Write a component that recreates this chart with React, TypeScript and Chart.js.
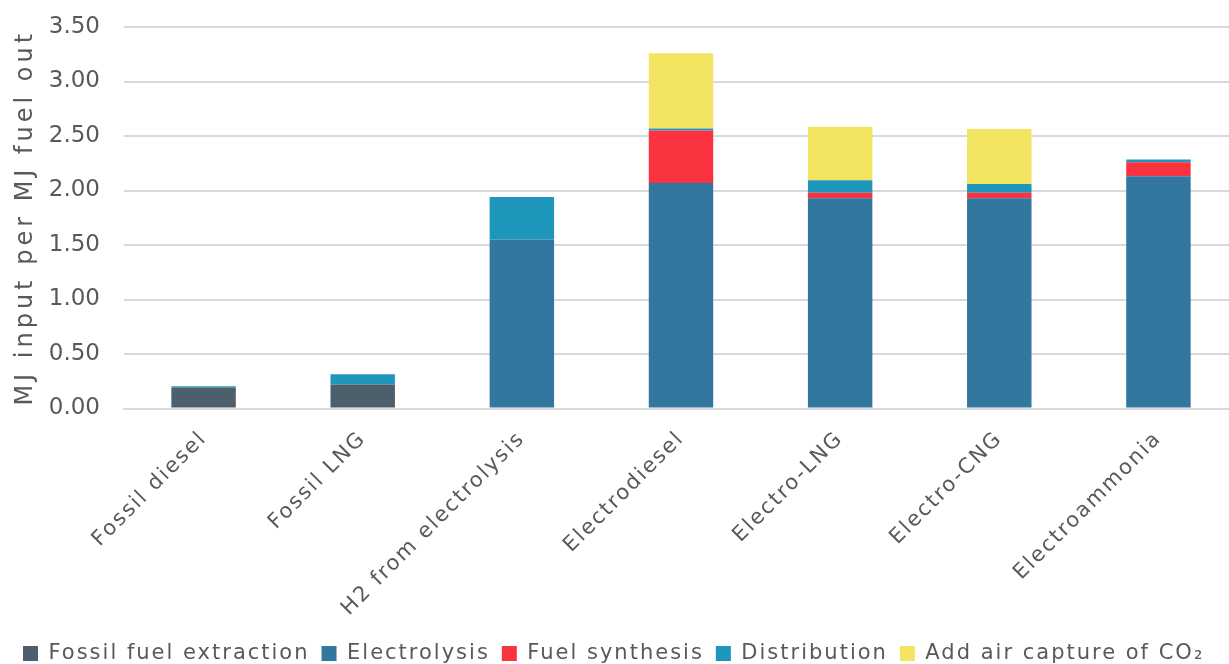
import React, { useEffect, useRef } from "react";
import { Chart, registerables } from "chart.js";

Chart.register(...registerables);

const categories = ["Fossil diesel", "Fossil LNG", "H2 from electrolysis", "Electrodiesel", "Electro-LNG", "Electro-CNG", "Electroammonia"];
const fossilExtraction = [0.19, 0.22, 0, 0, 0, 0, 0];
const electrolysis = [0, 0, 1.55, 2.07, 1.93, 1.93, 2.13];
const fuelSynthesis = [0, 0, 0, 0.48, 0.05, 0.05, 0.13];
const distribution = [0.015, 0.095, 0.39, 0.02, 0.115, 0.08, 0.025];
const airCapture = [0, 0, 0, 0.69, 0.49, 0.505, 0];
const yTicks = [0, 0.5, 1, 1.5, 2, 2.5, 3, 3.5];

const FONT = "'DejaVu Sans', sans-serif";
const TXT = "#595959";

// letter spacing per font size, to imitate the wide geometric face of the original
const SPACING: Record<string, string> = { "21px": "2px", "24px": "4px" };

function patchContext(ctx: CanvasRenderingContext2D) {
  const proto = CanvasRenderingContext2D.prototype;
  const desc = Object.getOwnPropertyDescriptor(proto, "font")!;
  Object.defineProperty(ctx, "font", {
    configurable: true,
    get() {
      return desc.get!.call(this);
    },
    set(v: string) {
      desc.set!.call(this, v);
      const m = /(\d+)px/.exec(v);
      (this as any).letterSpacing = (m && SPACING[m[1] + "px"]) || "0px";
    },
  });
}

const noPad = (s: any) => {
  s.paddingLeft = 0;
  s.paddingRight = 0;
  s.paddingTop = 0;
  s.paddingBottom = 0;
};

export default function App() {
  const ref = useRef<HTMLCanvasElement>(null);
  useEffect(() => {
    document.body.style.margin = "0";
    const canvas = ref.current!;
    patchContext(canvas.getContext("2d")!);
    const chart = new Chart(canvas, {
      type: "bar",
      data: {
        labels: categories,
        datasets: [
          { label: "Fossil fuel extraction", data: fossilExtraction, backgroundColor: "#4e5f6b" },
          { label: "Electrolysis", data: electrolysis, backgroundColor: "#31779f" },
          { label: "Fuel synthesis", data: fuelSynthesis, backgroundColor: "#f9333f" },
          { label: "Distribution", data: distribution, backgroundColor: "#1f96bb" },
          { label: "Add air capture of CO\u2082", data: airCapture, backgroundColor: "#f3e462" },
        ],
      },
      options: {
        responsive: false,
        animation: false,
        layout: { padding: { top: 27, right: 0, left: 11, bottom: 0 } },
        datasets: { bar: { categoryPercentage: 1, barPercentage: 0.405 } },
        scales: {
          x: {
            stacked: true,
            afterFit: noPad,
            grid: { display: false },
            border: { color: "#d9d9d9", width: 2 },
            ticks: { color: TXT, font: { family: FONT, size: 21 }, maxRotation: 45, minRotation: 45, padding: 10 },
          },
          y: {
            stacked: true,
            min: 0,
            max: 3.5,
            afterFit: (s: any) => {
              noPad(s);
              s.width = 113;
            },
            afterBuildTicks: (axis: any) => {
              axis.ticks = yTicks.map((v) => ({ value: v }));
            },
            grid: { color: "#d9d9d9", lineWidth: 2, drawTicks: false },
            border: { display: false },
            ticks: {
              color: TXT,
              font: { family: FONT, size: 23 },
              padding: 24,
              callback: (v: any) => Number(v).toFixed(2),
            },
            title: { display: true, text: "MJ input per MJ fuel out", color: TXT, font: { family: FONT, size: 24 }, padding: { top: 0, bottom: 10 } },
          },
        },
        plugins: {
          legend: {
            position: "bottom",
            align: "start",
            labels: { color: TXT, font: { family: FONT, size: 21 }, boxWidth: 15, boxHeight: 15, padding: 12 },
          },
          tooltip: { enabled: false },
        },
      },
    });
    return () => chart.destroy();
  }, []);
  return (
    <div style={{ width: 1229, height: 664, overflow: "hidden" }}>
      <canvas ref={ref} width={1238} height={674} />
    </div>
  );
}
